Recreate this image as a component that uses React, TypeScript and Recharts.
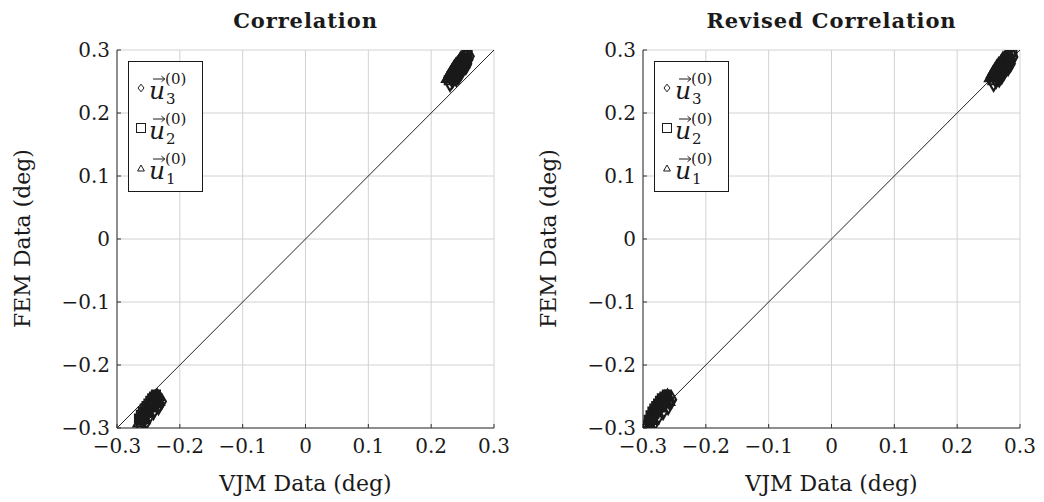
import { ScatterChart, Scatter, XAxis, YAxis, ZAxis, CartesianGrid, ReferenceLine } from 'recharts'

const TICKS = [-0.3, -0.2, -0.1, 0, 0.1, 0.2, 0.3]
const TICK_LABELS = ['−0.3', '−0.2', '−0.1', '0', '0.1', '0.2', '0.3']
const TITLES = ['Correlation', 'Revised Correlation']
const X_LABEL = 'VJM Data (deg)'
const Y_LABEL = 'FEM Data (deg)'

// [VJM, FEM] pairs
const corrU3: [number, number][] = [
  [0.230, 0.247], [0.234, 0.252], [0.238, 0.258], [0.242, 0.262], [0.246, 0.268],
  [0.250, 0.272], [0.253, 0.277], [0.256, 0.281], [0.259, 0.285], [0.261, 0.290],
  [0.240, 0.255], [0.248, 0.265], [0.255, 0.274], [0.257, 0.278], [0.244, 0.259],
  [-0.262, -0.297], [-0.259, -0.290], [-0.256, -0.284], [-0.253, -0.278], [-0.250, -0.272],
  [-0.247, -0.268], [-0.244, -0.264], [-0.240, -0.259], [-0.236, -0.256], [-0.232, -0.262],
  [-0.229, -0.258], [-0.234, -0.266], [-0.242, -0.274], [-0.248, -0.280], [-0.254, -0.291],
]
const corrU2: [number, number][] = [
  [0.228, 0.252], [0.232, 0.258], [0.235, 0.262], [0.238, 0.268], [0.241, 0.272],
  [0.244, 0.276], [0.247, 0.281], [0.250, 0.284], [0.253, 0.288], [0.256, 0.292],
  [0.258, 0.297], [0.236, 0.255], [0.242, 0.265], [0.248, 0.274], [0.254, 0.282],
  [-0.265, -0.285], [-0.262, -0.279], [-0.259, -0.274], [-0.256, -0.269], [-0.253, -0.265],
  [-0.250, -0.261], [-0.247, -0.257], [-0.244, -0.253], [-0.241, -0.250], [-0.238, -0.247],
  [-0.262, -0.288], [-0.257, -0.279], [-0.251, -0.270], [-0.245, -0.261], [-0.240, -0.255],
]
const corrU1: [number, number][] = [
  [0.227, 0.255], [0.231, 0.262], [0.234, 0.267], [0.237, 0.272], [0.240, 0.276],
  [0.244, 0.280], [0.247, 0.285], [0.251, 0.288], [0.254, 0.292], [0.233, 0.259],
  [0.239, 0.265], [0.245, 0.271], [0.250, 0.277], [0.252, 0.282], [0.236, 0.264],
  [-0.264, -0.292], [-0.260, -0.283], [-0.257, -0.277], [-0.254, -0.272], [-0.251, -0.267],
  [-0.248, -0.263], [-0.245, -0.259], [-0.242, -0.256], [-0.239, -0.252], [-0.236, -0.250],
  [-0.258, -0.287], [-0.252, -0.276], [-0.246, -0.268], [-0.240, -0.262], [-0.235, -0.258],
]

const revU3: [number, number][] = [
  [0.258, 0.247], [0.262, 0.252], [0.266, 0.257], [0.270, 0.262], [0.273, 0.267],
  [0.277, 0.271], [0.280, 0.276], [0.283, 0.280], [0.286, 0.284], [0.289, 0.289],
  [0.267, 0.254], [0.274, 0.264], [0.281, 0.272], [0.285, 0.278], [0.271, 0.259],
  [-0.290, -0.298], [-0.287, -0.291], [-0.284, -0.285], [-0.281, -0.279], [-0.277, -0.273],
  [-0.274, -0.268], [-0.270, -0.264], [-0.266, -0.259], [-0.262, -0.255], [-0.258, -0.258],
  [-0.254, -0.255], [-0.260, -0.266], [-0.268, -0.274], [-0.275, -0.281], [-0.282, -0.292],
]
const revU2: [number, number][] = [
  [0.256, 0.252], [0.259, 0.257], [0.262, 0.262], [0.265, 0.267], [0.268, 0.271],
  [0.271, 0.276], [0.274, 0.280], [0.277, 0.284], [0.281, 0.288], [0.285, 0.292],
  [0.288, 0.297], [0.263, 0.256], [0.269, 0.265], [0.275, 0.274], [0.282, 0.283],
  [-0.291, -0.287], [-0.288, -0.280], [-0.285, -0.274], [-0.282, -0.269], [-0.279, -0.265],
  [-0.276, -0.261], [-0.273, -0.257], [-0.270, -0.253], [-0.266, -0.250], [-0.262, -0.247],
  [-0.289, -0.290], [-0.284, -0.279], [-0.278, -0.270], [-0.272, -0.261], [-0.267, -0.255],
]
const revU1: [number, number][] = [
  [0.254, 0.256], [0.257, 0.262], [0.260, 0.267], [0.263, 0.272], [0.266, 0.276],
  [0.270, 0.280], [0.273, 0.285], [0.277, 0.288], [0.281, 0.292], [0.259, 0.259],
  [0.265, 0.265], [0.271, 0.271], [0.276, 0.277], [0.279, 0.282], [0.262, 0.264],
  [-0.292, -0.293], [-0.289, -0.284], [-0.286, -0.278], [-0.283, -0.272], [-0.280, -0.267],
  [-0.276, -0.263], [-0.272, -0.259], [-0.268, -0.256], [-0.265, -0.252], [-0.261, -0.250],
  [-0.286, -0.288], [-0.280, -0.276], [-0.273, -0.268], [-0.266, -0.262], [-0.260, -0.258],
]

const SERIF = '"DejaVu Serif", serif'
const INK = '#1a1a1a'

const toPoints = (rows: [number, number][]) => rows.map(([x, y]) => ({ x, y }))
const fmtTick = (v: number) => TICK_LABELS[TICKS.findIndex((t) => Math.abs(t - v) < 1e-9)] ?? String(v)

type Shape = 'diamond' | 'square' | 'triangle'

const LEGEND: { shape: Shape; sub: string }[] = [
  { shape: 'diamond', sub: '3' },
  { shape: 'square', sub: '2' },
  { shape: 'triangle', sub: '1' },
]

function LegendMark({ shape }: { shape: Shape }) {
  return (
    <svg width={12} height={12} viewBox="0 0 12 12" style={{ display: 'block' }}>
      {shape === 'diamond' && <path d="M6 2.2 L9 6 L6 9.8 L3 6 Z" fill="none" stroke={INK} strokeWidth={1} />}
      {shape === 'square' && <rect x={1.5} y={1.5} width={9} height={9} fill="none" stroke={INK} strokeWidth={1} />}
      {shape === 'triangle' && <path d="M6 3 L9.4 9 L2.6 9 Z" fill="none" stroke={INK} strokeWidth={1} />}
    </svg>
  )
}

function VecLabel({ sub }: { sub: string }) {
  return (
    <span style={{ display: 'inline-flex', alignItems: 'center', fontFamily: SERIF, color: INK }}>
      <span style={{ position: 'relative', fontStyle: 'italic', fontSize: 25, lineHeight: 1, paddingTop: 4 }}>
        <svg width={14} height={8} viewBox="0 0 14 8" style={{ position: 'absolute', left: 3, top: 1 }}>
          <path d="M1 4 L12.5 4 M9.5 1.2 L12.8 4 L9.5 6.8" fill="none" stroke={INK} strokeWidth={1} />
        </svg>
        u
      </span>
      <span style={{ display: 'inline-flex', flexDirection: 'column', fontSize: 15, lineHeight: 1.3, marginTop: 3 }}>
        <span>(0)</span>
        <span style={{ marginLeft: 1 }}>{sub}</span>
      </span>
    </span>
  )
}

function Panel({ left, title, u1, u2, u3 }: { left: number; title: string; u1: [number, number][]; u2: [number, number][]; u3: [number, number][] }) {
  return (
    <div style={{ position: 'absolute', left, top: 0, width: 505, height: 494 }}>
      <ScatterChart width={505} height={470} margin={{ top: 42, right: 19, bottom: 0, left: 9 }}>
        <CartesianGrid stroke="#d2d2d2" strokeWidth={1} />
        <XAxis
          type="number"
          dataKey="x"
          domain={[-0.3, 0.3]}
          ticks={TICKS}
          tickFormatter={fmtTick}
          allowDataOverflow
          height={50}
          tickSize={-4}
          tickLine={{ stroke: '#333' }}
          axisLine={{ stroke: '#333', strokeWidth: 1 }}
          tick={{ fill: INK, fontSize: 20, fontFamily: SERIF }}
          tickMargin={15}
        />
        <YAxis
          type="number"
          dataKey="y"
          domain={[-0.3, 0.3]}
          ticks={TICKS}
          tickFormatter={fmtTick}
          allowDataOverflow
          width={100}
          tickSize={-4}
          tickLine={{ stroke: '#333' }}
          axisLine={{ stroke: '#333', strokeWidth: 1 }}
          tick={{ fill: INK, fontSize: 20, fontFamily: SERIF }}
          tickMargin={11}
        />
        <ZAxis range={[135, 135]} />
        <ReferenceLine
          segment={[{ x: -0.3, y: -0.3 }, { x: 0.3, y: 0.3 }]}
          stroke="#222"
          strokeWidth={1}
        />
        <Scatter data={toPoints(u1)} shape="triangle" fill="none" stroke={INK} strokeWidth={2.1} isAnimationActive={false} />
        <Scatter data={toPoints(u2)} shape="square" fill="none" stroke={INK} strokeWidth={2.1} isAnimationActive={false} />
        <Scatter data={toPoints(u3)} shape="diamond" fill="none" stroke={INK} strokeWidth={2.1} isAnimationActive={false} />
      </ScatterChart>

      <div style={{ position: 'absolute', left: 109, width: 377, top: 0, textAlign: 'center', fontFamily: SERIF, fontWeight: 700, fontSize: 21, letterSpacing: 0.9, color: INK }}>
        {title}
      </div>
      <div style={{ position: 'absolute', left: 109, width: 377, top: 465, lineHeight: 1, textAlign: 'center', fontFamily: SERIF, fontSize: 22, color: INK }}>
        {X_LABEL}
      </div>
      <div style={{ position: 'absolute', left: 14, top: 232, width: 0, height: 0 }}>
        <div style={{ position: 'absolute', left: -120, top: -14, width: 240, textAlign: 'center', transform: 'rotate(-90deg)', fontFamily: SERIF, fontSize: 22, color: INK, whiteSpace: 'nowrap' }}>
          {Y_LABEL}
        </div>
      </div>

      <div style={{ position: 'absolute', left: 120, top: 53, width: 75, height: 131, border: `1px solid ${INK}`, background: '#fff', boxSizing: 'border-box', paddingTop: 6 }}>
        {LEGEND.map((e) => (
          <div key={e.shape} style={{ height: 40, display: 'flex', alignItems: 'center', paddingLeft: 6 }}>
            <LegendMark shape={e.shape} />
            <span style={{ marginLeft: 2 }}>
              <VecLabel sub={e.sub} />
            </span>
          </div>
        ))}
      </div>
    </div>
  )
}

export default function App() {
  return (
    <div style={{ position: 'relative', width: 1028, height: 494, background: '#fff' }}>
      <Panel left={0} title={TITLES[0]} u1={corrU1} u2={corrU2} u3={corrU3} />
      <Panel left={526} title={TITLES[1]} u1={revU1} u2={revU2} u3={revU3} />
    </div>
  )
}
